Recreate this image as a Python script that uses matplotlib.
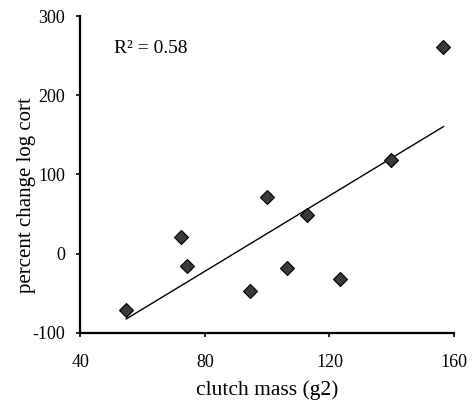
import numpy as np
import matplotlib.pyplot as plt

clutch_mass = [54.8, 72.4, 74.3, 94.4, 100.1, 106.5, 112.8, 123.5, 139.7, 156.6]
pct_change = [-71, 21.5, -15, -47, 72, -18, 49, -32.5, 117.7, 260.8]
xticks = [40, 80, 120, 160]
yticks = [-100, 0, 100, 200, 300]

plt.rcParams["font.family"] = ["Liberation Serif", "DejaVu Serif"]
plt.rcParams["axes.unicode_minus"] = False

x = np.array(clutch_mass)
y = np.array(pct_change)
slope, intercept = np.polyfit(x, y, 1)
r2 = np.corrcoef(x, y)[0, 1] ** 2

fig = plt.figure(figsize=(4.74, 4.01), dpi=100)
ax = fig.add_axes([0.169, 0.170, 0.789, 0.790])

xl = np.array([x.min(), x.max()])
ax.plot(xl, slope * xl + intercept, color="black", lw=1.0)
ax.plot(x, y, "D", ms=7, mfc="#3a3a3a", mec="black", mew=0.8, ls="none")

ax.set_xlim(40, 160)
ax.set_ylim(-100, 300)
ax.set_xticks(xticks)
ax.set_yticks(yticks)
ax.spines["top"].set_visible(False)
ax.spines["right"].set_visible(False)
for s in ("left", "bottom"):
    ax.spines[s].set_linewidth(1.6)
ax.tick_params(direction="out", length=3, width=1.2, labelsize=13)
ax.tick_params(axis="x", pad=12)
ax.tick_params(axis="y", pad=8)
ax.set_xlabel("clutch mass (g2)", fontsize=15.5, labelpad=7)
ax.set_ylabel("percent change log cort", fontsize=15)
ax.yaxis.set_label_coords(-0.118, 0.435)
ax.text(0.09, 0.899, f"R² = {r2:.2f}", transform=ax.transAxes, fontsize=14,
        va="center")

fig.savefig("out.png", dpi=100)
